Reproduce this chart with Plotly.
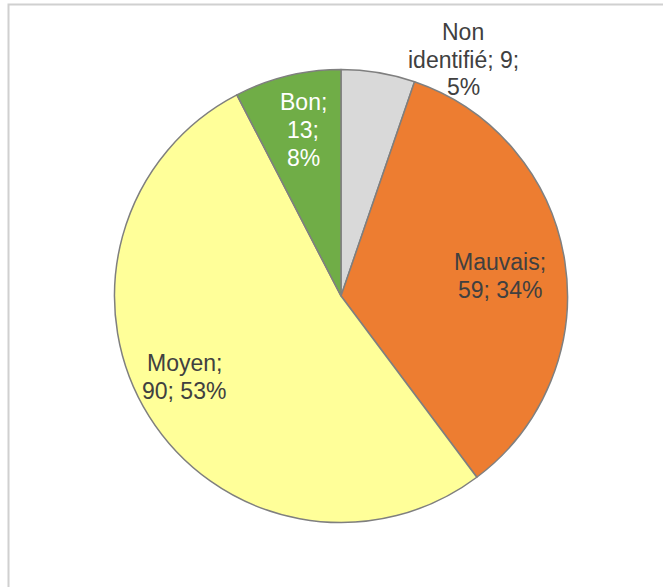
import plotly.graph_objects as go

W, H = 663, 587

labels = ["Non identifié", "Mauvais", "Moyen", "Bon"]
values = [9, 59, 90, 13]
pct_labels = ["5%", "34%", "53%", "8%"]
colors = ["#D9D9D9", "#ED7D31", "#FFFF99", "#70AD47"]

# label text (line breaks as in the original)
label_lines = [
    ["Non", "identifié; {v};", "{p}"],
    ["Mauvais;", "{v}; {p}"],
    ["Moyen;", "{v}; {p}"],
    ["Bon;", "{v};", "{p}"],
]
label_colors = ["#404040", "#404040", "#404040", "#FFFFFF"]
label_px = [(463, 60), (500, 276), (184, 377), (303, 130)]
LINE_SP = 27.5

cx, cy, R = 341, 296, 226.5

fig = go.Figure(go.Pie(
    labels=labels,
    values=values,
    sort=False,
    direction="clockwise",
    rotation=0,
    marker=dict(colors=colors, line=dict(color="#7F7F7F", width=1.5)),
    textinfo="none",
    hoverinfo="label+value+percent",
    showlegend=False,
    domain=dict(x=[(cx - R) / W, (cx + R) / W],
                y=[(H - cy - R) / H, (H - cy + R) / H]),
))

annotations = []
for lines, v, p, col, (px, py) in zip(label_lines, values, pct_labels, label_colors, label_px):
    n = len(lines)
    for i, l in enumerate(lines):
        ly = py + (i - (n - 1) / 2) * LINE_SP
        annotations.append(dict(
            text=l.format(v=v, p=p), x=px / W, y=1 - ly / H, xref="paper", yref="paper",
            xanchor="center", yanchor="middle", showarrow=False, align="center",
            font=dict(family="Liberation Sans, Arial, sans-serif", size=23, color=col),
        ))

fig.update_layout(
    width=W, height=H,
    margin=dict(l=0, r=0, t=0, b=0),
    paper_bgcolor="white",
    plot_bgcolor="white",
    annotations=annotations,
    shapes=[dict(type="rect", xref="paper", yref="paper",
                 x0=8.5 / W, x1=1.1, y0=-0.1, y1=1 - 4.5 / H,
                 line=dict(color="#D0D0D0", width=2), layer="above")],
)

fig.write_html("out.html", config={"displayModeBar": False},
               post_script="document.body.style.margin='0';")
